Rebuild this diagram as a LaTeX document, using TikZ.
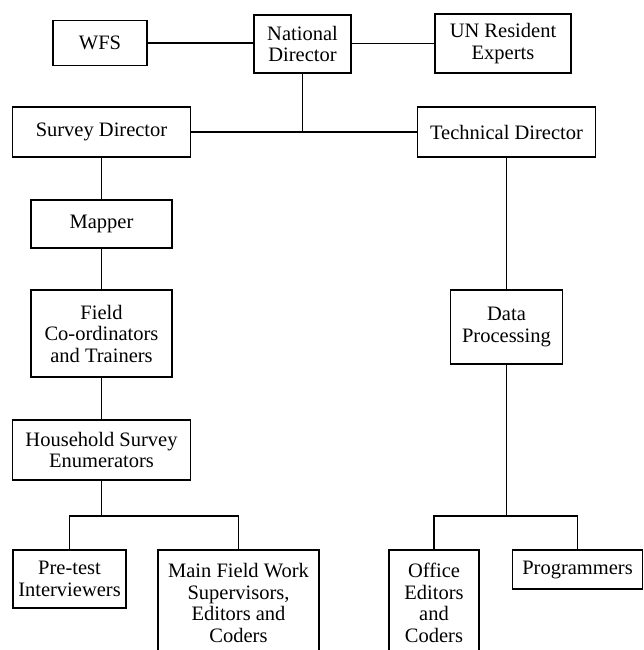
\documentclass[tikz,border=0pt]{standalone}
\usepackage{fontspec}
\setmainfont{Liberation Serif}
\usepackage{tikz}

\tikzset{
  unitbox/.style={draw, line width=1.5pt, inner sep=0pt, align=center,
    font=\fontsize{20.5}{21.5}\selectfont},
  link/.style={line width=1.5pt}
}

\begin{document}
\begin{tikzpicture}[x=1pt,y=-1pt]
\useasboundingbox (0,0) rectangle (644,650);
\clip (0,0) rectangle (644,650);

\node (wfs) [unitbox, minimum width=94pt, minimum height=45pt] at (100,43) {WFS};
\node (natdir) [unitbox, minimum width=97pt, minimum height=58pt] at (302.5,44) {National\\Director};
\node (unexp) [unitbox, minimum width=136pt, minimum height=59pt] at (503,43.5) {UN Resident\\Experts};

\node (survdir) [unitbox, minimum width=178pt, minimum height=50pt] at (101.5,132) {Survey Director};
\node (techdir) [unitbox, minimum width=178pt, minimum height=50pt] at (506.5,132) {Technical Director};

\node (mapper) [unitbox, minimum width=141pt, minimum height=48pt] at (101.5,224) {Mapper};
\node (fieldco) [unitbox, minimum width=141pt, minimum height=87pt] at (101.5,333.5) {Field\\Co-ordinators\\and Trainers};
\node (household) [unitbox, minimum width=178pt, minimum height=60pt] at (101.5,450) {Household Survey\\Enumerators};
\node (dataproc) [unitbox, minimum width=112pt, minimum height=74pt] at (506.5,327) {Data\\Processing};

\node (pretest) [unitbox, minimum width=113pt, minimum height=58pt] at (69.5,579) {Pre-test\\Interviewers};
\node (mainfield) [unitbox, minimum width=161pt, minimum height=106pt] at (238.5,603) {Main Field Work\\Supervisors,\\Editors and\\Coders};
\node (office) [unitbox, minimum width=90pt, minimum height=106pt] at (434,603) {Office\\Editors\\and\\Coders};
\node (progr) [unitbox, minimum width=130pt, minimum height=39pt] at (577.5,569.5) {Programmers};

\draw [link] (wfs.east) -- (wfs.east -| natdir.west);
\draw [link] (natdir.east |- unexp.west) -- (unexp.west);
\draw [link] (survdir.east) -- (techdir.west);
\draw [link] (natdir.south) -- (natdir.south |- survdir.east);

\draw [link] (survdir.south) -- (mapper.north);
\draw [link] (mapper.south) -- (fieldco.north);
\draw [link] (fieldco.south) -- (household.north);
\draw [link] (techdir.south) -- (dataproc.north);

    \coordinate (hsplit) at (101.5,516);
    \coordinate (dsplit) at (506.5,516);
\draw [link] (household.south) -- (hsplit);
\draw [link] (pretest.north) |- (hsplit) -| (mainfield.north);
\draw [link] (dataproc.south) -- (dsplit);
\draw [link] (office.north) |- (dsplit) -| (progr.north);
\end{tikzpicture}
\end{document}
